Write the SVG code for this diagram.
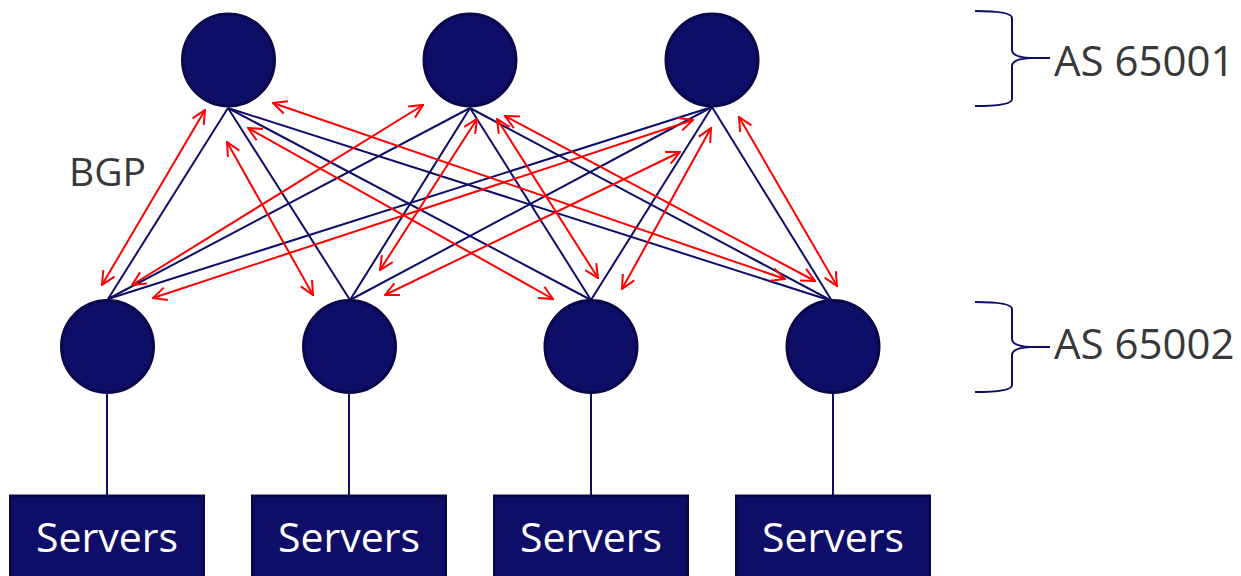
<svg xmlns="http://www.w3.org/2000/svg" width="1241" height="576" viewBox="0 0 1241 576">
  <style>
    .node { fill: #0e0e68; stroke: #08084c; stroke-width: 3; }
    .box { fill: #0e0e68; stroke: #08084c; stroke-width: 3; }
    .link { stroke: #0e0e68; stroke-width: 2; fill: none; }
    .bgp { stroke: #ff0000; stroke-width: 2; fill: none; marker-start: url(#ah); marker-end: url(#ah); }
    .brace { stroke: #0e0e68; stroke-width: 2; fill: none; }
    .label { font-family: "Open Sans", "Liberation Sans", sans-serif; fill: #383838; }
    .srv { font-family: "Open Sans", "Liberation Sans", sans-serif; fill: #ffffff; font-size: 41px; text-anchor: middle; }
  </style>
  <defs>
    <marker id="ah" markerUnits="userSpaceOnUse" viewBox="0 0 16 16" markerWidth="16" markerHeight="16" refX="14.5" refY="8" orient="auto-start-reverse">
      <path d="M1,1.5 L14.5,8 L1,14.5" fill="none" stroke="#ff0000" stroke-width="2"/>
    </marker>
  </defs>

  <!-- physical links: spine to leaf, leaf to servers -->
  <g id="connectors">
    <line class="link" x1="228" y1="108" x2="108" y2="299"/>
    <line class="link" x1="228" y1="108" x2="350" y2="300"/>
    <line class="link" x1="228" y1="108" x2="591" y2="300"/>
    <line class="link" x1="228" y1="108" x2="832" y2="301"/>
    <line class="link" x1="470" y1="108" x2="108" y2="299"/>
    <line class="link" x1="470" y1="108" x2="350" y2="300"/>
    <line class="link" x1="470" y1="108" x2="591" y2="300"/>
    <line class="link" x1="470" y1="108" x2="832" y2="301"/>
    <line class="link" x1="712" y1="107" x2="108" y2="299"/>
    <line class="link" x1="712" y1="107" x2="350" y2="300"/>
    <line class="link" x1="712" y1="107" x2="591" y2="300"/>
    <line class="link" x1="712" y1="107" x2="832" y2="301"/>

    <line class="link" x1="107" y1="394" x2="107" y2="495"/>
    <line class="link" x1="349" y1="394" x2="349" y2="495"/>
    <line class="link" x1="591" y1="394" x2="591" y2="495"/>
    <line class="link" x1="833" y1="394" x2="833" y2="495"/>

    <!-- BGP sessions -->
    <line class="bgp" x1="205" y1="110" x2="102" y2="285"/>
    <line class="bgp" x1="227" y1="142" x2="313" y2="295"/>
    <line class="bgp" x1="248" y1="128" x2="553" y2="299"/>
    <line class="bgp" x1="273" y1="103" x2="785" y2="279"/>
    <line class="bgp" x1="423" y1="105" x2="132" y2="285"/>
    <line class="bgp" x1="477" y1="119" x2="380" y2="270"/>
    <line class="bgp" x1="497" y1="119" x2="598" y2="278"/>
    <line class="bgp" x1="505" y1="116" x2="815" y2="281"/>
    <line class="bgp" x1="693" y1="120" x2="153" y2="298"/>
    <line class="bgp" x1="680" y1="152" x2="385" y2="295"/>
    <line class="bgp" x1="711" y1="128" x2="622" y2="289"/>
    <line class="bgp" x1="739" y1="117" x2="837" y2="286"/>
  </g>

  <!-- spine switches -->
  <g id="spine1"><circle class="node" cx="228.5" cy="60" r="46"/></g>
  <g id="spine2"><circle class="node" cx="470" cy="60" r="46"/></g>
  <g id="spine3"><circle class="node" cx="712" cy="60" r="46"/></g>

  <!-- leaf switches -->
  <g id="leaf1"><circle class="node" cx="107.5" cy="346.5" r="46"/></g>
  <g id="leaf2"><circle class="node" cx="349.5" cy="346.5" r="46"/></g>
  <g id="leaf3"><circle class="node" cx="591" cy="346.5" r="46"/></g>
  <g id="leaf4"><circle class="node" cx="833" cy="346.5" r="46"/></g>

  <!-- server racks -->
  <g id="servers1"><rect class="box" x="10.5" y="496" width="193" height="82"/><text class="srv" x="107" y="552">Servers</text></g>
  <g id="servers2"><rect class="box" x="252.5" y="496" width="193" height="82"/><text class="srv" x="349" y="552">Servers</text></g>
  <g id="servers3"><rect class="box" x="494.5" y="496" width="193" height="82"/><text class="srv" x="591" y="552">Servers</text></g>
  <g id="servers4"><rect class="box" x="736.5" y="496" width="193" height="82"/><text class="srv" x="833" y="552">Servers</text></g>

  <!-- labels -->
  <g id="bgp-label"><text class="label" x="69" y="186" font-size="39">BGP</text></g>

  <g id="as65001">
    <path class="brace" d="M975,11 Q1012,11 1012,18 L1012,50 Q1012,57 1030,58 Q1012,59 1012,66 L1012,99 Q1012,106 975,106 M1030,58 L1050,58"/>
    <text class="label" x="1054" y="76" font-size="42">AS 65001</text>
  </g>
  <g id="as65002">
    <path class="brace" d="M975,302 Q1012,302 1012,309 L1012,339 Q1012,346 1030,347 Q1012,348 1012,355 L1012,385 Q1012,392 975,392 M1030,347 L1050,347"/>
    <text class="label" x="1054" y="359" font-size="42">AS 65002</text>
  </g>
</svg>
